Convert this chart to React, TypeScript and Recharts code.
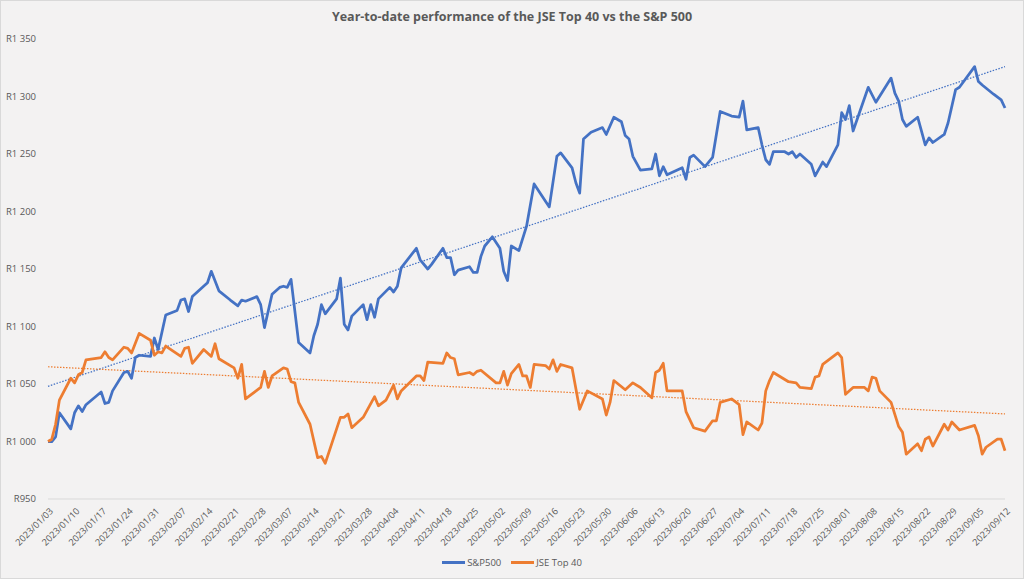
import React from "react";
import { CartesianGrid, Line, LineChart, XAxis, YAxis } from "recharts";

// Year-to-date: JSE Top 40 vs S&P 500, both rebased to R1 000 on 2023/01/03.
// x = days since 2023/01/03 (date axis, weekly labels like Excel).

const TICK_DATES = [
  "2023/01/03", "2023/01/10", "2023/01/17", "2023/01/24", "2023/01/31",
  "2023/02/07", "2023/02/14", "2023/02/21", "2023/02/28", "2023/03/07",
  "2023/03/14", "2023/03/21", "2023/03/28", "2023/04/04", "2023/04/11",
  "2023/04/18", "2023/04/25", "2023/05/02", "2023/05/09", "2023/05/16",
  "2023/05/23", "2023/05/30", "2023/06/06", "2023/06/13", "2023/06/20",
  "2023/06/27", "2023/07/04", "2023/07/11", "2023/07/18", "2023/07/25",
  "2023/08/01", "2023/08/08", "2023/08/15", "2023/08/22", "2023/08/29",
  "2023/09/05", "2023/09/12",
];

const Y_TICKS = [950, 1000, 1050, 1100, 1150, 1200, 1250, 1300, 1350];

const SP_DAYS = [
  0, 1, 2, 3, 6, 7, 8, 9, 10, 14, 15, 16, 17, 20, 21, 22, 23, 24, 27, 28,
  29, 31, 34, 35, 36, 37, 38, 42, 43, 45, 48, 50, 51, 52, 55, 56, 57, 59, 61, 62,
  63, 64, 66, 69, 70, 71, 72, 73, 76, 77, 78, 79, 80, 83, 84, 85, 86, 87, 90, 91,
  92, 93, 97, 98, 100, 101, 104, 105, 106, 107, 108, 111, 112, 113, 114, 115, 117, 119, 120, 121,
  122, 124, 126, 128, 132, 134, 135, 138, 139, 140, 141, 143, 146, 147, 149, 151, 152, 153, 154, 156,
  159, 160, 161, 162, 163, 167, 168, 169, 170, 173, 175, 176, 177, 180, 182, 183, 184, 187, 188, 189,
  190, 191, 194, 195, 196, 197, 198, 201, 202, 204, 205, 208, 209, 210, 211, 212, 216, 218, 222, 223,
  224, 225, 226, 229, 231, 232, 233, 236, 237, 239, 240, 244, 245, 246, 249, 251, 252,
];
const SP500 = [
  1000, 1000, 1004, 1025, 1011, 1025, 1031, 1026, 1032, 1043, 1033, 1034, 1044, 1060, 1061, 1055, 1073, 1075, 1074, 1090,
  1080, 1110, 1114, 1123, 1124, 1113, 1126, 1138, 1148, 1131, 1123, 1118, 1123, 1122, 1126, 1119, 1099, 1128, 1134, 1135,
  1134, 1141, 1086, 1077, 1092, 1102, 1119, 1111, 1124, 1142, 1102, 1097, 1109, 1119, 1106, 1119, 1108, 1124, 1134, 1130,
  1135, 1151, 1168, 1158, 1150, 1154, 1168, 1160, 1160, 1145, 1149, 1152, 1147, 1147, 1161, 1170, 1178, 1168, 1148, 1140,
  1170, 1166, 1187, 1224, 1204, 1248, 1251, 1238, 1225, 1216, 1263, 1269, 1273, 1267, 1282, 1278, 1266, 1263, 1248, 1236,
  1237, 1250, 1231, 1239, 1232, 1238, 1228, 1247, 1249, 1239, 1247, 1267, 1287, 1283, 1282, 1296, 1271, 1273, 1258, 1245,
  1241, 1252, 1252, 1250, 1252, 1247, 1250, 1241, 1231, 1243, 1239, 1258, 1286, 1280, 1292, 1270, 1308, 1295, 1316, 1303,
  1296, 1280, 1274, 1282, 1258, 1264, 1260, 1267, 1277, 1306, 1308, 1326, 1313, 1310, 1302, 1297, 1290,
];

const JSE_DAYS = [
  0, 1, 2, 3, 6, 7, 8, 9, 10, 14, 15, 16, 17, 20, 21, 22, 24, 27, 28, 29,
  30, 31, 35, 36, 37, 38, 41, 43, 44, 45, 49, 50, 51, 52, 56, 57, 58, 59, 62, 63,
  64, 65, 66, 69, 71, 72, 73, 77, 78, 79, 80, 83, 86, 87, 89, 91, 92, 93, 97, 98,
  99, 100, 104, 105, 106, 107, 108, 111, 112, 113, 114, 118, 119, 120, 121, 122, 124, 125, 126, 127,
  128, 131, 132, 133, 134, 135, 138, 140, 142, 146, 147, 148, 149, 152, 154, 156, 159, 160, 161, 162,
  163, 167, 168, 170, 173, 175, 176, 177, 180, 182, 183, 184, 187, 188, 189, 190, 191, 195, 197, 198,
  201, 202, 203, 204, 208, 209, 210, 212, 215, 216, 217, 218, 219, 222, 224, 225, 226, 229, 230, 231,
  232, 233, 236, 237, 238, 240, 244, 245, 246, 247, 250, 251, 252,
];
const JSE40 = [
  1000, 1002, 1015, 1036, 1055, 1051, 1058, 1060, 1071, 1073, 1078, 1073, 1071, 1082, 1081, 1077, 1094, 1088, 1075, 1078,
  1077, 1083, 1074, 1081, 1082, 1068, 1080, 1074, 1085, 1072, 1064, 1055, 1067, 1037, 1047, 1061, 1047, 1057, 1064, 1063,
  1052, 1051, 1034, 1015, 986, 987, 981, 1021, 1021, 1024, 1012, 1021, 1039, 1031, 1036, 1049, 1037, 1044, 1057, 1057,
  1053, 1069, 1068, 1077, 1073, 1072, 1058, 1060, 1058, 1061, 1062, 1051, 1051, 1061, 1049, 1059, 1067, 1057, 1057, 1047,
  1067, 1066, 1063, 1071, 1061, 1067, 1064, 1028, 1044, 1037, 1023, 1034, 1053, 1045, 1051, 1047, 1038, 1060, 1062, 1068,
  1044, 1044, 1026, 1012, 1009, 1018, 1018, 1034, 1037, 1032, 1006, 1017, 1010, 1016, 1044, 1053, 1060, 1052, 1051, 1047,
  1046, 1056, 1057, 1067, 1077, 1073, 1041, 1047, 1047, 1044, 1056, 1055, 1044, 1034, 1013, 1008, 989, 998, 992, 1002,
  1004, 996, 1015, 1010, 1017, 1010, 1014, 1005, 989, 995, 1002, 1002, 992,
];

// Excel linear trendlines, end values read off the picture
const TREND_DAYS = [0, 252];
const SP_TREND = [1048, 1326];
const JSE_TREND = [1065, 1024];

const BLUE = "#4472C4";
const ORANGE = "#ED7D31";
const TEXT = "#595959";
const FONT = "'Open Sans', 'Liberation Sans', sans-serif";

const zip = (days: number[], vals: number[]) => days.map((d, i) => ({ day: d, v: vals[i] }));

const spData = zip(SP_DAYS, SP500);
const jseData = zip(JSE_DAYS, JSE40);
const spTrend = zip(TREND_DAYS, SP_TREND);
const jseTrend = zip(TREND_DAYS, JSE_TREND);

const xTicks = TICK_DATES.map((_, i) => i * 7);

const fmtRand = (v: number) =>
  v >= 1000 ? `R${Math.floor(v / 1000)} ${String(v % 1000).padStart(3, "0")}` : `R${v}`;

function DateTick({ x, y, payload }: { x?: number; y?: number; payload?: { value: number } }) {
  const label = TICK_DATES[Math.round((payload?.value ?? 0) / 7)];
  const ax = (x ?? 0) + 4;
  const ay = (y ?? 0) + 11;
  return (
    <text
      x={ax}
      y={ay}
      transform={`rotate(-45 ${ax} ${ay})`}
      textAnchor="end"
      dominantBaseline="middle"
      fontSize={9.2}
      fontFamily={FONT}
      fill={TEXT}
    >
      {label}
    </text>
  );
}

function LegendItem({ color, label }: { color: string; label: string }) {
  return (
    <div style={{ display: "flex", alignItems: "center", gap: 2 }}>
      <span style={{ display: "inline-block", width: 23, height: 3, background: color }} />
      <span>{label}</span>
    </div>
  );
}

export default function App() {
  return (
    <div style={{ position: "relative", width: 1024, height: 579, background: "#F3F2F2", fontFamily: FONT }}>
      <style>{"body{margin:0}"}</style>
      <div
        style={{
          position: "absolute",
          top: 8,
          left: 0,
          width: 1024,
          textAlign: "center",
          fontSize: 12.5,
          fontWeight: 700,
          color: TEXT,
        }}
      >
        Year-to-date performance of the JSE Top 40 vs the S&amp;P 500
      </div>
      <LineChart width={1024} height={579} margin={{ top: 39, right: 19, bottom: 0, left: 0 }}>
        <CartesianGrid horizontal={false} vertical={false} />
        <XAxis
          dataKey="day"
          type="number"
          domain={[0, 252]}
          ticks={xTicks}
          interval={0}
          height={80}
          tickLine={false}
          tickSize={0}
          tickMargin={0}
          axisLine={{ stroke: "#D9D9D9", strokeWidth: 1 }}
          tick={<DateTick />}
        />
        <YAxis
          type="number"
          domain={[950, 1350]}
          ticks={Y_TICKS}
          width={48}
          axisLine={false}
          tickLine={false}
          tickSize={0}
          tickMargin={12}
          tickFormatter={fmtRand}
          tick={{ fill: TEXT, fontSize: 9.5, fontFamily: FONT }}
        />
        <Line
          data={spTrend}
          dataKey="v"
          stroke={BLUE}
          strokeWidth={1.25}
          strokeDasharray="1.5 1.5"
          dot={false}
          isAnimationActive={false}
        />
        <Line
          data={jseTrend}
          dataKey="v"
          stroke={ORANGE}
          strokeWidth={1.25}
          strokeDasharray="1.5 1.5"
          dot={false}
          isAnimationActive={false}
        />
        <Line
          data={spData}
          dataKey="v"
          name="S&P500"
          type="linear"
          stroke={BLUE}
          strokeWidth={2.75}
          strokeLinejoin="round"
          dot={false}
          isAnimationActive={false}
        />
        <Line
          data={jseData}
          dataKey="v"
          name="JSE Top 40"
          type="linear"
          stroke={ORANGE}
          strokeWidth={2.75}
          strokeLinejoin="round"
          dot={false}
          isAnimationActive={false}
        />
      </LineChart>
      <div
        style={{
          position: "absolute",
          top: 556,
          left: 0,
          width: 1024,
          display: "flex",
          justifyContent: "center",
          gap: 10,
          fontSize: 9.5,
          color: TEXT,
        }}
      >
        <LegendItem color={BLUE} label="S&P500" />
        <LegendItem color={ORANGE} label="JSE Top 40" />
      </div>
      <div
        style={{
          position: "absolute",
          inset: 0,
          border: "1px solid #D9D9D9",
          pointerEvents: "none",
        }}
      />
    </div>
  );
}
